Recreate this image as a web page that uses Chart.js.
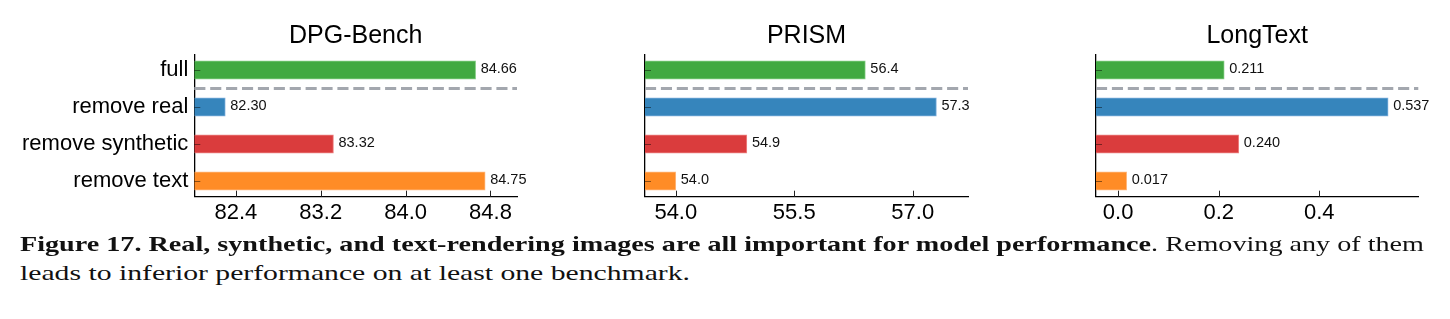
<!DOCTYPE html>
<html>
<head>
<meta charset="utf-8">
<script src="https://cdn.jsdelivr.net/npm/chart.js@4.4.0/dist/chart.umd.min.js"></script>
<style>
  html, body { margin: 0; padding: 0; background: #fff; }
  #wrap { position: relative; width: 1450px; height: 319px; overflow: hidden; }
  canvas.panel { position: absolute; left: 0; top: 0; }
  .cap { position: absolute; left: 20px; font-family: "Liberation Serif", "Times New Roman", serif; font-size: 21px; line-height: 29px; color: #111; white-space: nowrap; transform-origin: 0 0; }
  #cap1 { top: 230px; }
  #cap2 { top: 259px; }
</style>
</head>
<body>
<div id="wrap">
  <canvas id="c1" class="panel" width="1450" height="232"></canvas>
  <canvas id="c2" class="panel" width="1450" height="232"></canvas>
  <canvas id="c3" class="panel" width="1450" height="232"></canvas>
  <div id="cap1" class="cap"><b>Figure 17. Real, synthetic, and text-rendering images are all important for model performance</b>. Removing any of them</div>
  <div id="cap2" class="cap">leads to inferior performance on at least one benchmark.</div>
</div>
<script>
// ---- data ----
const categories = ['full', 'remove real', 'remove synthetic', 'remove text'];
const titles = ['DPG-Bench', 'PRISM', 'LongText'];
const dpgValues = [84.66, 82.30, 83.32, 84.75];
const prismValues = [56.4, 57.3, 54.9, 54.0];
const longTextValues = [0.211, 0.537, 0.240, 0.017];
const dpgTicks = [82.4, 83.2, 84.0, 84.8];
const prismTicks = [54.0, 55.5, 57.0];
const longTextTicks = [0.0, 0.2, 0.4];
const barColors = ['#41a941', '#3685bc', '#da3c3d', '#ff8c26'];
const barEdges = ['rgba(120,200,120,0.9)', 'rgba(110,165,215,0.9)', 'rgba(235,120,120,0.9)', 'rgba(255,175,110,0.9)'];

const SANS = '"Liberation Sans", Arial, Helvetica, sans-serif';

const panelPlugin = {
  id: 'panelExtras',
  afterDatasetsDraw(chart, args, opts) {
    const ctx = chart.ctx;
    const ca = chart.chartArea;
    const ys = chart.scales.y;
    // dashed separator between "full" and the ablations
    const yd = ys.getPixelForValue(0.5);
    ctx.save();
    ctx.strokeStyle = '#a3a7ae';
    ctx.lineWidth = 3;
    ctx.setLineDash([11.1, 4.8]);
    ctx.beginPath();
    ctx.moveTo(ca.left, yd);
    ctx.lineTo(ca.right, yd);
    ctx.stroke();
    ctx.restore();
    // value labels
    const meta = chart.getDatasetMeta(0);
    const vals = chart.data.datasets[0].data;
    ctx.save();
    ctx.font = '14.5px ' + SANS;
    ctx.fillStyle = '#111';
    ctx.textAlign = 'left';
    ctx.textBaseline = 'middle';
    meta.data.forEach((bar, i) => {
      ctx.fillText(vals[i].x.toFixed(opts.labelDecimals), bar.x + 5, bar.y - 1);
    });
    ctx.restore();
  },
  afterDraw(chart, args, opts) {
    const ctx = chart.ctx;
    const ca = chart.chartArea;
    const xs = chart.scales.x, ys = chart.scales.y;
    ctx.save();
    // inward tick marks
    ctx.strokeStyle = '#222';
    ctx.lineWidth = 1;
    xs.ticks.forEach(t => {
      const x = Math.round(xs.getPixelForValue(t.value)) + 0.5;
      ctx.beginPath();
      ctx.moveTo(x, ca.bottom);
      ctx.lineTo(x, ca.bottom - 6);
      ctx.stroke();
    });
    ctx.strokeStyle = 'rgba(0,0,0,0.45)';
    ys.ticks.forEach(t => {
      const y = Math.round(ys.getPixelForValue(t.value)) + 0.5;
      ctx.beginPath();
      ctx.moveTo(ca.left, y);
      ctx.lineTo(ca.left + 6, y);
      ctx.stroke();
    });
    // title
    ctx.font = '25px ' + SANS;
    ctx.fillStyle = '#000';
    ctx.textAlign = 'center';
    ctx.textBaseline = 'alphabetic';
    ctx.fillText(opts.title, (ca.left + ca.right) / 2, 43);
    ctx.restore();
  }
};

function makePanel(id, title, values, tickVals, tickDecimals, labelDecimals, xmin, xmax, left, right, showCats) {
  const yWidth = showCats ? left : 0;
  return new Chart(document.getElementById(id), {
    type: 'bar',
    data: {
      datasets: [{
        data: values.map((v, i) => ({ x: v, y: i })),
        backgroundColor: barColors,
        borderColor: barEdges,
        borderWidth: 1,
        barThickness: 18.5,
        base: xmin
      }]
    },
    options: {
      indexAxis: 'y',
      responsive: false,
      animation: false,
      devicePixelRatio: 1,
      layout: { padding: { top: 54.3, bottom: 0, left: left - yWidth, right: 1450 - right } },
      plugins: {
        legend: { display: false },
        tooltip: { enabled: false },
        panelExtras: { title: title, labelDecimals: labelDecimals }
      },
      scales: {
        x: {
          type: 'linear',
          min: xmin,
          max: xmax,
          offset: false,
          grid: { display: false, drawTicks: false },
          border: { display: true, color: '#000', width: 1.3 },
          afterBuildTicks: s => { s.ticks = tickVals.map(v => ({ value: v })); },
          afterFit: s => { s.height = 232 - 196.7; },
          ticks: {
            padding: 3,
            color: '#000',
            font: { family: SANS, size: 22 },
            callback: v => Number(v).toFixed(tickDecimals)
          }
        },
        y: {
          type: 'linear',
          reverse: true,
          min: -0.425,
          max: 3.425,
          offset: false,
          grid: { display: false, drawTicks: false },
          border: { display: true, color: '#000', width: 1.3 },
          afterBuildTicks: s => { s.ticks = categories.map((c, i) => ({ value: i })); },
          afterFit: s => { s.width = yWidth; },
          ticks: {
            display: showCats,
            padding: 6,
            color: '#000',
            font: { family: SANS, size: 22 },
            callback: v => categories[v]
          }
        }
      }
    },
    plugins: [panelPlugin]
  });
}

makePanel('c1', titles[0], dpgValues, dpgTicks, 1, 2, 82.008, 85.05, 194.3, 517, true);
makePanel('c2', titles[1], prismValues, prismTicks, 1, 1, 53.61, 57.70, 645, 968, false);
makePanel('c3', titles[2], longTextValues, longTextTicks, 1, 3, -0.044, 0.597, 1096, 1418.3, false);

// stretch each caption line horizontally to the reference widths (line 1: 20->1424, line 2: 20->690)
(function fitCaption() {
  const c1 = document.getElementById('cap1');
  const c2 = document.getElementById('cap2');
  const w1 = c1.getBoundingClientRect().width;
  const w2 = c2.getBoundingClientRect().width;
  c1.style.transform = 'scaleX(' + (1404 / w1) + ')';
  c2.style.transform = 'scaleX(' + (670 / w2) + ')';
})();
</script>
</body>
</html>
